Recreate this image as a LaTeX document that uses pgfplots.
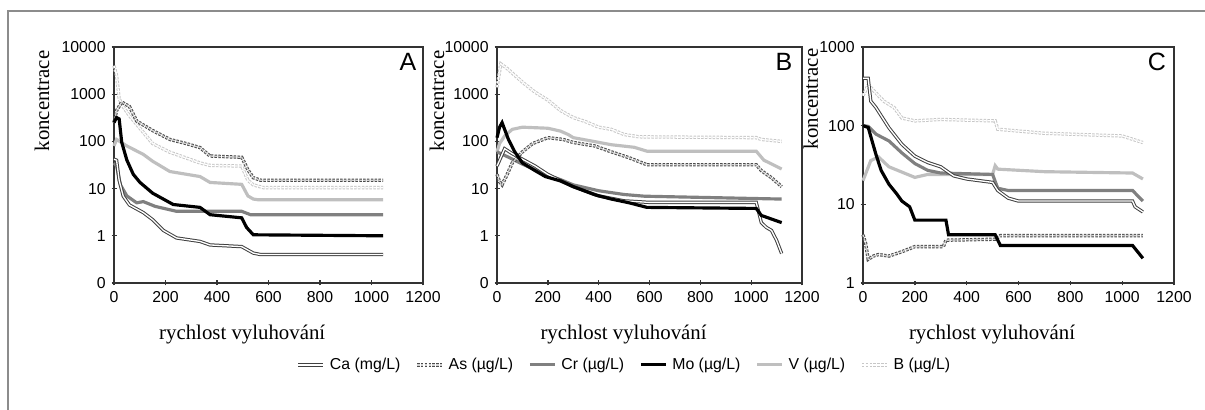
\documentclass[border=0pt]{standalone}
\usepackage{fontspec}
\setmainfont{Liberation Sans}
\newfontfamily\serifA{Liberation Serif}
\usepackage{pgfplots}
\pgfplotsset{compat=1.18}

\tikzset{
  caS/.style={draw=black!75, double=white, line width=0.6pt, double distance=0.8pt},
  asS/.style={draw=black!70, double=gray!35, line width=0.6pt, double distance=0.8pt, dash pattern=on 1.5pt off 0.8pt},
  crS/.style={draw=black!50, line width=1.9pt},
  moS/.style={draw=black, line width=1.9pt},
  vS/.style={draw=black!25, line width=1.9pt},
  bS/.style={draw=black!22, double=white, line width=0.6pt, double distance=0.8pt, dash pattern=on 1.5pt off 0.8pt},
}

\pgfplotsset{
  panel/.style={
    scale only axis, height=141.6pt,
    xmin=0, xmax=1200, xtick={0,200,...,1200},
    tick align=center, tick pos=left, major tick length=3pt,
    axis line style={black!80, line width=0.8pt},
    tick style={black!80, line width=0.8pt},
    tick label style={font=\fontsize{9.5}{9.5}\selectfont},
    /pgf/number format/assume math mode=true,
    /pgf/number format/1000 sep={},
    xlabel={rychlost vyluhování}, ylabel={koncentrace},
    every axis x label/.style={at={(axis description cs:0.415,-0.22)}, anchor=center,
      font=\serifA\fontsize{12.5}{12.5}\selectfont},
    clip=false,
  },
  ylab/.style={every axis y label/.style={at={(axis description cs:#1)}, rotate=90, anchor=center,
      font=\serifA\fontsize{12.5}{12.5}\selectfont}},
}

\begin{document}
\begin{tikzpicture}
\useasboundingbox (0,0) rectangle (723pt,246pt);
\draw[black!45, line width=0.7pt] (4.8pt,-5pt) -- (4.8pt,239.4pt) -- (730pt,239.4pt);

% panel A
\begin{axis}[ymode=log, panel, yminorticks=false, at={(68.4pt,76.2pt)}, anchor=south west, width=185.4pt,
  ymin=0.1, ymax=10000, ytick={0.1,1,10,100,1000,10000}, yticklabels={0,1,10,100,1000,10000},
  ylab={-0.233,0.771}]
\addplot[vS] coordinates {(0,80)(10,110)(50,80)(114,53)(150,38)(217,23)(334,18)(373,13.5)(496,12.3)(520,7)(541,6)(560,5.8)(1045,5.8)};
\addplot[bS] coordinates {(0,4000)(10,2500)(20,800)(35,550)(60,350)(114,155)(150,90)(217,59)(334,35)(373,31)(496,30)(520,15)(541,12)(580,10.5)(1045,10.5)};
\addplot[crS] coordinates {(0,35)(10,30)(25,12)(50,7)(88,5.0)(114,5.3)(160,4.2)(243,3.3)(496,3.3)(530,2.8)(1045,2.8)};
\addplot[asS] coordinates {(0,250)(10,450)(30,680)(60,550)(88,270)(150,170)(217,110)(280,90)(334,74)(373,49)(496,46)(520,25)(541,17)(570,15)(1045,15)};
\addplot[caS] coordinates {(0,42)(10,40)(20,15)(36,6.9)(60,4.5)(114,3.1)(150,2.2)(192,1.3)(243,0.9)(334,0.76)(373,0.64)(496,0.59)(541,0.43)(570,0.40)(1045,0.40)};
\addplot[moS] coordinates {(0,250)(10,320)(20,300)(30,96)(50,40)(75,20)(101,13.5)(150,8)(230,4.6)(334,4.0)(373,2.8)(496,2.4)(515,1.5)(541,1.05)(1045,1.0)};
\node[font=\fontsize{15}{15}\selectfont] at (axis description cs:0.951,0.936) {A};
\end{axis}

% panel B
\begin{axis}[ymode=log, panel, yminorticks=false, at={(298.2pt,76.2pt)}, anchor=south west, width=183pt,
  ymin=0.1, ymax=10000, ytick={0.1,1,10,100,1000,10000}, yticklabels={0,1,10,100,1000,10000},
  ylab={-0.197,0.771},
  legend columns=6,
  legend style={draw=none, fill=none, at={(axis description cs:0.42,-0.347)}, anchor=center,
    font=\fontsize{9.5}{9.5}\selectfont,
    /tikz/every odd column/.append style={column sep=1pt},
    /tikz/every even column/.append style={column sep=7pt}},
  legend image code/.code={\draw[#1] (0pt,0pt) -- (15pt,0pt);}]
\addlegendimage{caS}\addlegendentry{Ca (mg/L)}
\addlegendimage{asS}\addlegendentry{As (µg/L)}
\addlegendimage{crS}\addlegendentry{Cr (µg/L)}
\addlegendimage{moS}\addlegendentry{Mo (µg/L)}
\addlegendimage{vS}\addlegendentry{V (µg/L)}
\addlegendimage{bS}\addlegendentry{B (µg/L)}
\addplot[vS, forget plot] coordinates {(0,60)(10,90)(30,130)(60,180)(100,200)(200,190)(250,165)(280,140)(300,120)(380,100)(450,85)(540,75)(590,62)(1020,62)(1050,40)(1120,26)};
\addplot[bS, forget plot] coordinates {(0,1400)(15,4400)(40,3500)(100,1800)(150,1100)(200,750)(250,450)(300,320)(350,260)(400,200)(450,180)(500,140)(560,125)(1020,120)(1040,110)(1120,100)};
\addplot[crS, forget plot] coordinates {(0,60)(50,45)(100,33)(150,25)(200,19)(250,15.5)(300,12)(400,9)(500,7.5)(580,6.9)(1120,6.0)};
\addplot[asS, forget plot] coordinates {(0,20)(10,14)(20,12)(40,20)(60,35)(100,60)(140,90)(200,120)(260,110)(300,95)(385,80)(450,60)(520,45)(590,32)(1020,32)(1040,24)(1080,17)(1120,11)};
\addplot[caS, forget plot] coordinates {(0,30)(30,70)(60,55)(100,42)(150,30)(200,20)(300,11)(400,7)(500,5.5)(600,5.1)(1020,5.1)(1040,1.9)(1060,1.5)(1080,1.3)(1100,0.8)(1120,0.42)};
\addplot[moS, forget plot] coordinates {(0,120)(10,200)(20,250)(30,180)(45,110)(70,60)(100,35)(150,24)(190,18)(250,14.5)(300,11)(385,7.4)(450,6)(520,5.0)(590,4.0)(1020,3.8)(1040,2.7)(1120,1.9)};
\node[font=\fontsize{15}{15}\selectfont] at (axis description cs:0.941,0.936) {B};
\end{axis}

% panel C
\begin{axis}[ymode=log, panel, yminorticks=false, at={(517.8pt,76.2pt)}, anchor=south west, width=186.6pt,
  ymin=1, ymax=1000, ytick={1,10,100,1000}, yticklabels={1,10,100,1000},
  ylab={-0.168,0.78}]
\addplot[vS] coordinates {(0,20)(30,36)(60,40)(100,30)(200,22)(250,24)(500,24)(510,31)(520,28)(700,26)(1040,25)(1080,21)};
\addplot[bS] coordinates {(0,240)(20,330)(80,205)(120,170)(150,125)(200,115)(300,120)(510,115)(520,90)(700,80)(1000,74)(1080,61)};
\addplot[crS] coordinates {(0,100)(20,98)(50,78)(100,64)(150,45)(200,33)(250,27)(300,25)(500,24)(520,16)(560,15)(1040,15)(1080,11)};
\addplot[asS] coordinates {(0,4.1)(10,3.2)(20,2.0)(40,2.2)(60,2.3)(100,2.2)(150,2.5)(200,2.9)(310,2.9)(320,3.5)(510,3.6)(530,4.0)(1080,4.0)};
\addplot[caS] coordinates {(0,400)(20,400)(30,205)(50,170)(100,94)(150,58)(200,41)(250,34)(300,30)(350,23)(400,21)(500,19)(520,15)(560,12)(600,11)(1040,11)(1050,9.3)(1080,8.0)};
\addplot[moS] coordinates {(0,100)(20,95)(50,43)(70,27)(100,18)(130,13.6)(150,11)(180,9.3)(200,6.3)(320,6.3)(330,4.1)(510,4.1)(530,3.0)(1040,3.0)(1080,2.06)};
\node[font=\fontsize{15}{15}\selectfont] at (axis description cs:0.945,0.936) {C};
\end{axis}
\end{tikzpicture}
\end{document}
